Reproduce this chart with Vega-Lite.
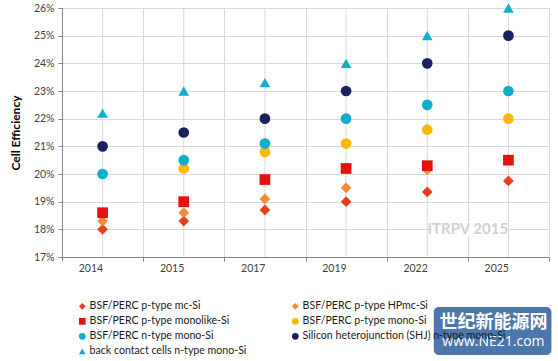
{
  "$schema": "https://vega.github.io/schema/vega-lite/v6.json",
  "width": 487,
  "height": 249,
  "autosize": {"type": "none"},
  "padding": {"left": 62, "top": 8, "right": 9, "bottom": 104},
  "background": "white",
  "config": {
    "view": {"stroke": null},
    "font": "Lato",
    "axis": {"labelFont": "Lato", "labelFontSize": 10.5, "labelColor": "#404040", "domainColor": "#868686", "tickColor": "#868686", "gridColor": "#d9d9d9", "titleFont": "Lato"},
    "axisY": {"labelOverlap": false, "tickCount": 10}
  },
  "layer": [
    {
      "data": {"values": [{"year": "2014"}, {"year": "2015"}, {"year": "2017"}, {"year": "2019"}, {"year": "2022"}, {"year": "2025"}]},
      "mark": {"type": "rule", "color": "#d9d9d9", "strokeWidth": 1},
      "encoding": {"x": {"field": "year", "type": "nominal", "sort": null}}
    },
    {
      "data": {"values": [{"t": "ITRPV 2015"}]},
      "mark": {"type": "rect", "color": "white", "opacity": 1},
      "encoding": {
        "x": {"datum": "2022", "bandPosition": 0.56},
        "x2": {"datum": "2025", "bandPosition": 0.47},
        "y": {"datum": 18.27},
        "y2": {"datum": 17.73}
      }
    },
    {
      "data": {"values": [{"t": "ITRPV 2015"}]},
      "mark": {"type": "text", "font": "Lato", "fontWeight": "bold", "fontSize": 15, "color": "#d0d0d0", "align": "center", "baseline": "middle"},
      "encoding": {"x": {"datum": "2025", "bandPosition": 0}, "y": {"datum": 18}, "text": {"field": "t"}}
    },
    {
      "data": {
        "values": [
          {"year": "2014", "series": "BSF/PERC p-type mc-Si", "eff": 18.0},
          {"year": "2015", "series": "BSF/PERC p-type mc-Si", "eff": 18.3},
          {"year": "2017", "series": "BSF/PERC p-type mc-Si", "eff": 18.7},
          {"year": "2019", "series": "BSF/PERC p-type mc-Si", "eff": 19.0},
          {"year": "2022", "series": "BSF/PERC p-type mc-Si", "eff": 19.35},
          {"year": "2025", "series": "BSF/PERC p-type mc-Si", "eff": 19.75},
          {"year": "2014", "series": "BSF/PERC p-type HPmc-Si", "eff": 18.3},
          {"year": "2015", "series": "BSF/PERC p-type HPmc-Si", "eff": 18.6},
          {"year": "2017", "series": "BSF/PERC p-type HPmc-Si", "eff": 19.1},
          {"year": "2019", "series": "BSF/PERC p-type HPmc-Si", "eff": 19.5},
          {"year": "2022", "series": "BSF/PERC p-type HPmc-Si", "eff": 20.15},
          {"year": "2025", "series": "BSF/PERC p-type HPmc-Si", "eff": 20.5},
          {"year": "2014", "series": "BSF/PERC p-type monolike-Si", "eff": 18.6},
          {"year": "2015", "series": "BSF/PERC p-type monolike-Si", "eff": 19.0},
          {"year": "2017", "series": "BSF/PERC p-type monolike-Si", "eff": 19.8},
          {"year": "2019", "series": "BSF/PERC p-type monolike-Si", "eff": 20.2},
          {"year": "2022", "series": "BSF/PERC p-type monolike-Si", "eff": 20.3},
          {"year": "2025", "series": "BSF/PERC p-type monolike-Si", "eff": 20.5},
          {"year": "2015", "series": "BSF/PERC p-type mono-Si", "eff": 20.2},
          {"year": "2017", "series": "BSF/PERC p-type mono-Si", "eff": 20.8},
          {"year": "2019", "series": "BSF/PERC p-type mono-Si", "eff": 21.1},
          {"year": "2022", "series": "BSF/PERC p-type mono-Si", "eff": 21.6},
          {"year": "2025", "series": "BSF/PERC p-type mono-Si", "eff": 22.0},
          {"year": "2014", "series": "BSF/PERC n-type mono-Si", "eff": 20.0},
          {"year": "2015", "series": "BSF/PERC n-type mono-Si", "eff": 20.5},
          {"year": "2017", "series": "BSF/PERC n-type mono-Si", "eff": 21.1},
          {"year": "2019", "series": "BSF/PERC n-type mono-Si", "eff": 22.0},
          {"year": "2022", "series": "BSF/PERC n-type mono-Si", "eff": 22.5},
          {"year": "2025", "series": "BSF/PERC n-type mono-Si", "eff": 23.0},
          {"year": "2014", "series": "Silicon heterojunction (SHJ) n-type mono-Si", "eff": 21.0},
          {"year": "2015", "series": "Silicon heterojunction (SHJ) n-type mono-Si", "eff": 21.5},
          {"year": "2017", "series": "Silicon heterojunction (SHJ) n-type mono-Si", "eff": 22.0},
          {"year": "2019", "series": "Silicon heterojunction (SHJ) n-type mono-Si", "eff": 23.0},
          {"year": "2022", "series": "Silicon heterojunction (SHJ) n-type mono-Si", "eff": 24.0},
          {"year": "2025", "series": "Silicon heterojunction (SHJ) n-type mono-Si", "eff": 25.0},
          {"year": "2014", "series": "back contact cells n-type mono-Si", "eff": 22.2},
          {"year": "2015", "series": "back contact cells n-type mono-Si", "eff": 23.0},
          {"year": "2017", "series": "back contact cells n-type mono-Si", "eff": 23.3},
          {"year": "2019", "series": "back contact cells n-type mono-Si", "eff": 24.0},
          {"year": "2022", "series": "back contact cells n-type mono-Si", "eff": 25.0},
          {"year": "2025", "series": "back contact cells n-type mono-Si", "eff": 26.0}
        ]
      },
      "mark": {"type": "point", "filled": true, "opacity": 1, "size": 115},
      "encoding": {
        "x": {
          "field": "year", "type": "nominal", "sort": null, "title": null,
          "scale": {"paddingInner": 0, "paddingOuter": 0},
          "axis": {"labelAngle": 0, "grid": true, "tickBand": "extent", "ticks": true, "tickSize": 4, "labelPadding": 7, "labelFontSize": 10.5}
        },
        "y": {
          "field": "eff", "type": "quantitative",
          "scale": {"domain": [17, 26], "nice": false, "zero": false},
          "axis": {"values": [17, 18, 19, 20, 21, 22, 23, 24, 25, 26], "tickCount": 10, "labelOverlap": false, "labelExpr": "datum.value + '%'", "grid": true, "tickSize": 4, "labelPadding": 4, "title": "Cell Efficiency", "titleFontWeight": "bold", "titleFontSize": 12, "titleColor": "#000000", "titlePadding": 11}
        },
        "color": {
          "field": "series", "type": "nominal", "title": null,
          "scale": {
            "domain": ["BSF/PERC p-type mc-Si", "BSF/PERC p-type HPmc-Si", "BSF/PERC p-type monolike-Si", "BSF/PERC p-type mono-Si", "BSF/PERC n-type mono-Si", "Silicon heterojunction (SHJ) n-type mono-Si", "back contact cells n-type mono-Si"],
            "range": ["#E8401C", "#F28A3A", "#E3120B", "#FBB800", "#0EAECB", "#1B2160", "#12AECB"]
          },
          "legend": {
            "orient": "none", "legendX": 15, "legendY": 293, "direction": "horizontal", "columns": 2,
            "columnPadding": 43, "rowPadding": 4, "symbolSize": 45, "symbolStrokeWidth": 0,
            "labelFont": "Lato", "labelFontSize": 10.6, "labelColor": "#1a1a1a", "labelLimit": 320, "labelOffset": 2
          }
        },
        "shape": {
          "field": "series", "type": "nominal", "title": null,
          "scale": {
            "domain": ["BSF/PERC p-type mc-Si", "BSF/PERC p-type HPmc-Si", "BSF/PERC p-type monolike-Si", "BSF/PERC p-type mono-Si", "BSF/PERC n-type mono-Si", "Silicon heterojunction (SHJ) n-type mono-Si", "back contact cells n-type mono-Si"],
            "range": ["diamond", "diamond", "square", "circle", "circle", "circle", "triangle-up"]
          }
        }
      }
    },
    {
      "data": {"values": [{"t": "logo"}]},
      "mark": {"type": "rect", "color": "#4270A5", "opacity": 0.95, "cornerRadius": 5, "zindex": 2},
      "encoding": {
        "x": {"datum": "2022", "bandPosition": 0.58},
        "x2": {"datum": "2025", "bandPosition": 1.03},
        "y": {"datum": 15.19},
        "y2": {"datum": 13.46}
      }
    },
    {
      "data": {"values": [{"t": "世纪新能源网"}]},
      "mark": {"type": "text", "font": "Noto Sans CJK SC", "fontWeight": "bold", "fontSize": 18, "fill": "#ffffff", "align": "center", "baseline": "middle", "dx": -15, "zindex": 3},
      "encoding": {"x": {"datum": "2025"}, "y": {"datum": 14.615}, "text": {"field": "t"}}
    },
    {
      "data": {"values": [{"t": "www.NE21.com"}]},
      "mark": {"type": "text", "font": "Open Sans", "fontSize": 14, "fill": "#ffffff", "align": "center", "baseline": "middle", "dx": -15, "zindex": 3},
      "encoding": {"x": {"datum": "2025"}, "y": {"datum": 13.93}, "text": {"field": "t"}}
    }
  ]
}
